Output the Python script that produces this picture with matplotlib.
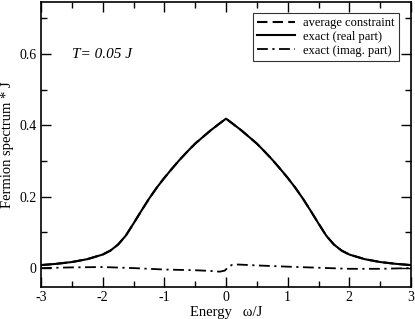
import matplotlib
matplotlib.use("Agg")
import matplotlib.pyplot as plt
from matplotlib.ticker import MultipleLocator

# values
omega = [-3.0, -2.75, -2.5, -2.25, -2.0, -1.875, -1.75, -1.625, -1.5, -1.375,
         -1.25, -1.125, -1.0, -0.875, -0.75, -0.625, -0.5, -0.25, -0.1, 0.0,
         0.1, 0.25, 0.5, 0.625, 0.75, 0.875, 1.0, 1.125, 1.25, 1.375, 1.5,
         1.625, 1.75, 1.875, 2.0, 2.25, 2.5, 2.75, 3.0]
real_part = [0.0084, 0.012, 0.017, 0.025, 0.038, 0.049, 0.066, 0.091, 0.125, 0.160,
             0.194, 0.225, 0.253, 0.279, 0.304, 0.327, 0.349, 0.386, 0.406, 0.419,
             0.406, 0.386, 0.349, 0.327, 0.304, 0.279, 0.253, 0.225, 0.194, 0.160, 0.125,
             0.091, 0.066, 0.049, 0.038, 0.025, 0.017, 0.012, 0.0084]
avg_constraint = real_part

imag_omega = [-3.0, -2.5, -2.0, -1.5, -1.0, -0.5, -0.25, -0.1, -0.02, 0.05, 0.1,
              0.2, 0.5, 1.0, 1.5, 2.0, 2.5, 3.0]
imag_part = [0.0, 0.002, 0.003, 0.0, -0.004, -0.006, -0.008, -0.010, -0.007, 0.005, 0.009,
             0.010, 0.0075, 0.004, 0.001, -0.002, -0.002, 0.0]

plt.rcParams['font.family'] = ['Liberation Serif', 'DejaVu Serif']

fig = plt.figure(figsize=(4.15, 3.19), dpi=100)
ax = fig.add_axes([0.0988, 0.1003, 0.8916, 0.8934])

ax.plot(omega, avg_constraint, color='black', lw=1.5, ls=(0, (5, 2.5)), label='average constraint')
ax.plot(omega, real_part, color='black', lw=1.5, solid_joinstyle='round', label='exact (real part)')
ax.plot(imag_omega, imag_part, color='black', lw=1.3, ls=(0, (6, 2.5, 1.2, 2.5)), label='exact (imag. part)')

ax.set_xlim(-3, 3)
ax.set_ylim(-0.053, 0.746)
ax.xaxis.set_minor_locator(MultipleLocator(0.5))
ax.yaxis.set_minor_locator(MultipleLocator(0.1))
ax.set_yticks([0, 0.2, 0.4, 0.6])
ax.set_yticklabels(['0', '0.2', '0.4', '0.6'])
ax.set_xticks([-3, -2, -1, 0, 1, 2, 3])
ax.set_xticklabels(['-3', '-2', '-1', '0', '1', '2', '3'])
ax.tick_params(which='both', direction='in', top=True, right=True, labelsize=10, pad=3)
ax.tick_params(which='major', length=7, width=1)
ax.tick_params(which='minor', length=4, width=1)
for s in ax.spines.values():
    s.set_linewidth(1.2)

ax.set_xlabel('Energy   \u03c9/J', fontsize=10.5, labelpad=1)
ax.set_ylabel('Fermion spectrum * J', fontsize=10.5, labelpad=4)

ax.text(0.085, 0.805, 'T= 0.05 J', transform=ax.transAxes, fontsize=11, style='italic')

leg = ax.legend(loc='upper right', fontsize=9, frameon=True, fancybox=False,
                edgecolor='black', handlelength=3.0, borderpad=0.35, labelspacing=0.15,
                handletextpad=0.7, bbox_to_anchor=(0.985, 0.985))
leg.get_frame().set_linewidth(0.8)

fig.savefig('out.png', dpi=100)
